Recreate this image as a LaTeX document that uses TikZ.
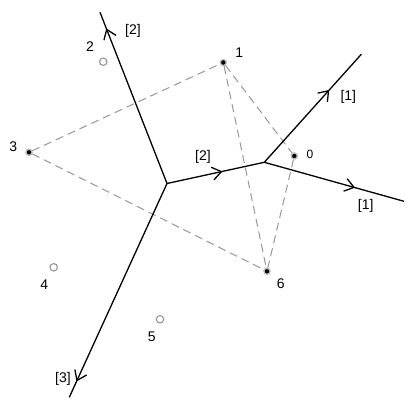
\documentclass[tikz,border=0pt]{standalone}
\usepackage{fontspec}
\setmainfont{Liberation Sans}
\usetikzlibrary{arrows.meta,decorations.markings}
\definecolor{dashgray}{RGB}{150,150,150}
\tikzset{
  lbl/.style={inner sep=0pt, font=\fontsize{14}{16}\selectfont},
  filledpt/.style={circle, inner sep=0pt, minimum size=6pt, fill=black, draw=dashgray!60, line width=1.2pt},
  openpt/.style={circle, inner sep=0pt, minimum size=7.5pt, draw=dashgray, line width=1.1pt, fill=white},
  triedge/.style={dashgray, line width=1pt, dash pattern=on 8pt off 5pt},
  curve/.style={black, line width=1.3pt},
  midarrow/.style={postaction={decorate}, decoration={markings,
     mark=at position #1 with {\arrow{Straight Barb[length=9pt,width=13pt,line width=1.3pt]}}}}
}
\begin{document}
\begin{tikzpicture}[x=1pt,y=-1pt]
\useasboundingbox (0,0) rectangle (415,411);
% tropical curve vertices and ends
\coordinate (A) at (167,183.5);
\coordinate (B) at (264.3,162.3);
\coordinate (Etop) at (100,12.3);
\coordinate (Ebot) at (69.3,397.3);
\coordinate (Eur) at (361.3,54.3);
\coordinate (Er) at (404,201.3);
% dashed subdivision
\node[filledpt] (p1) at (223.3,62.5) {};
\node[filledpt] (p0) at (294.3,156) {};
\node[filledpt] (p3) at (29,152.3) {};
\node[filledpt] (p6) at (267,271.3) {};
\draw[triedge] (p3) -- (p1);
\draw[triedge] (p3) -- (p6);
\draw[triedge] (p1) -- (p6);
\draw[triedge] (p1) -- (p0);
\draw[triedge] (p0) -- (p6);
\node[filledpt] at (p1) {};
\node[filledpt] at (p0) {};
\node[filledpt] at (p3) {};
\node[filledpt] at (p6) {};
\node[openpt] (p2) at (103.3,61.7) {};
\node[openpt] (p4) at (53.7,267.3) {};
\node[openpt] (p5) at (160,319.3) {};
% curve
\draw[curve, midarrow=0.906] (A) -- (Etop);
\draw[curve, midarrow=0.926] (A) -- (Ebot);
\draw[curve, midarrow=0.57] (A) -- (B);
\draw[curve, midarrow=0.67] (B) -- (Eur);
\draw[curve, midarrow=0.65] (B) -- (Er);
% labels
\node[lbl] (l1) at (239.3,52.5) {1};
\node[lbl, font=\fontsize{12}{14}\selectfont] (l0) at (310,154) {0};
\node[lbl] (l3) at (13.3,146.5) {3};
\node[lbl] (l6) at (280.7,283.5) {6};
\node[lbl] (l2) at (90,47) {2};
\node[lbl] (l4) at (44.3,284.5) {4};
\node[lbl] (l5) at (151.7,336.5) {5};
\node[lbl] (w1) at (133,30.5) {[2]};
\node[lbl] (w2) at (203,157) {[2]};
\node[lbl] (w3) at (63,379) {[3]};
\node[lbl] (w4) at (348.3,96.7) {[1]};
\node[lbl] (w5) at (365.7,206) {[1]};
\end{tikzpicture}
\end{document}
